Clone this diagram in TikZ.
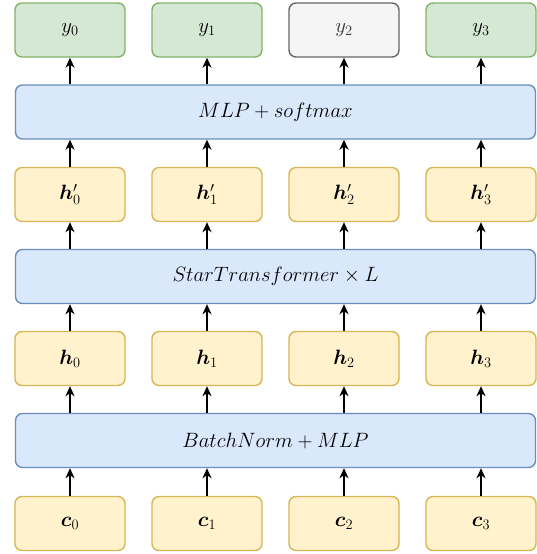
\documentclass[tikz,border=0pt]{standalone}
\usepackage{amsmath}
\usepackage{bm}
\usetikzlibrary{arrows.meta}
\definecolor{yfill}{HTML}{FFF2CC}\definecolor{ydraw}{HTML}{D6B656}
\definecolor{gfill}{HTML}{D5E8D4}\definecolor{gdraw}{HTML}{82B366}
\definecolor{bfill}{HTML}{DAE8FC}\definecolor{bdraw}{HTML}{6C8EBF}
\definecolor{nfill}{HTML}{F5F5F5}\definecolor{ndraw}{HTML}{666666}
\definecolor{ntext}{HTML}{333333}
\begin{document}
\begin{tikzpicture}[x=1pt,y=-1pt,
  box/.style={rectangle,rounded corners=7pt,line width=1.4pt,minimum width=110pt,minimum height=54pt,inner sep=0pt,font=\fontsize{20}{24}\selectfont},
  ybox/.style={box,fill=yfill,draw=ydraw},
  gbox/.style={box,fill=gfill,draw=gdraw},
  nbox/.style={box,fill=nfill,draw=ndraw,text=ntext},
  bar/.style={box,fill=bfill,draw=bdraw,minimum width=520pt},
  arr/.style={line width=1.4pt,-{Stealth[length=10pt,width=9pt,inset=3pt]}}]
\useasboundingbox (0,0) rectangle (536,554);
% top row
\node[gbox] (y0) at (70,30) {$y_0$};
\node[gbox] (y1) at (207,30) {$y_1$};
\node[nbox] (y2) at (344,30) {$y_2$};
\node[gbox] (y3) at (481,30) {$y_3$};
\node[bar] (mlp) at (275.5,112) {$MLP+softmax$};
\node[ybox] (hp0) at (70,194.5) {$\bm{h}'_0$};
\node[ybox] (hp1) at (207,194.5) {$\bm{h}'_1$};
\node[ybox] (hp2) at (344,194.5) {$\bm{h}'_2$};
\node[ybox] (hp3) at (481,194.5) {$\bm{h}'_3$};
\node[bar] (st) at (275.5,276.5) {$StarTransformer\times L$};
\node[ybox] (h0) at (70,358.5) {$\bm{h}_0$};
\node[ybox] (h1) at (207,358.5) {$\bm{h}_1$};
\node[ybox] (h2) at (344,358.5) {$\bm{h}_2$};
\node[ybox] (h3) at (481,358.5) {$\bm{h}_3$};
\node[bar] (bn) at (275.5,440.5) {$BatchNorm+MLP$};
\node[ybox] (c0) at (70,523.5) {$\bm{c}_0$};
\node[ybox] (c1) at (207,523.5) {$\bm{c}_1$};
\node[ybox] (c2) at (344,523.5) {$\bm{c}_2$};
\node[ybox] (c3) at (481,523.5) {$\bm{c}_3$};
\foreach \i in {0,1,2,3}{
  \draw[arr] (c\i.north) -- (c\i.north |- bn.south);
  \draw[arr] (h\i.north |- bn.north) -- (h\i.south);
  \draw[arr] (h\i.north) -- (h\i.north |- st.south);
  \draw[arr] (hp\i.north |- st.north) -- (hp\i.south);
  \draw[arr] (hp\i.north) -- (hp\i.north |- mlp.south);
  \draw[arr] (y\i.south |- mlp.north) -- (y\i.south);
}
\end{tikzpicture}
\end{document}
